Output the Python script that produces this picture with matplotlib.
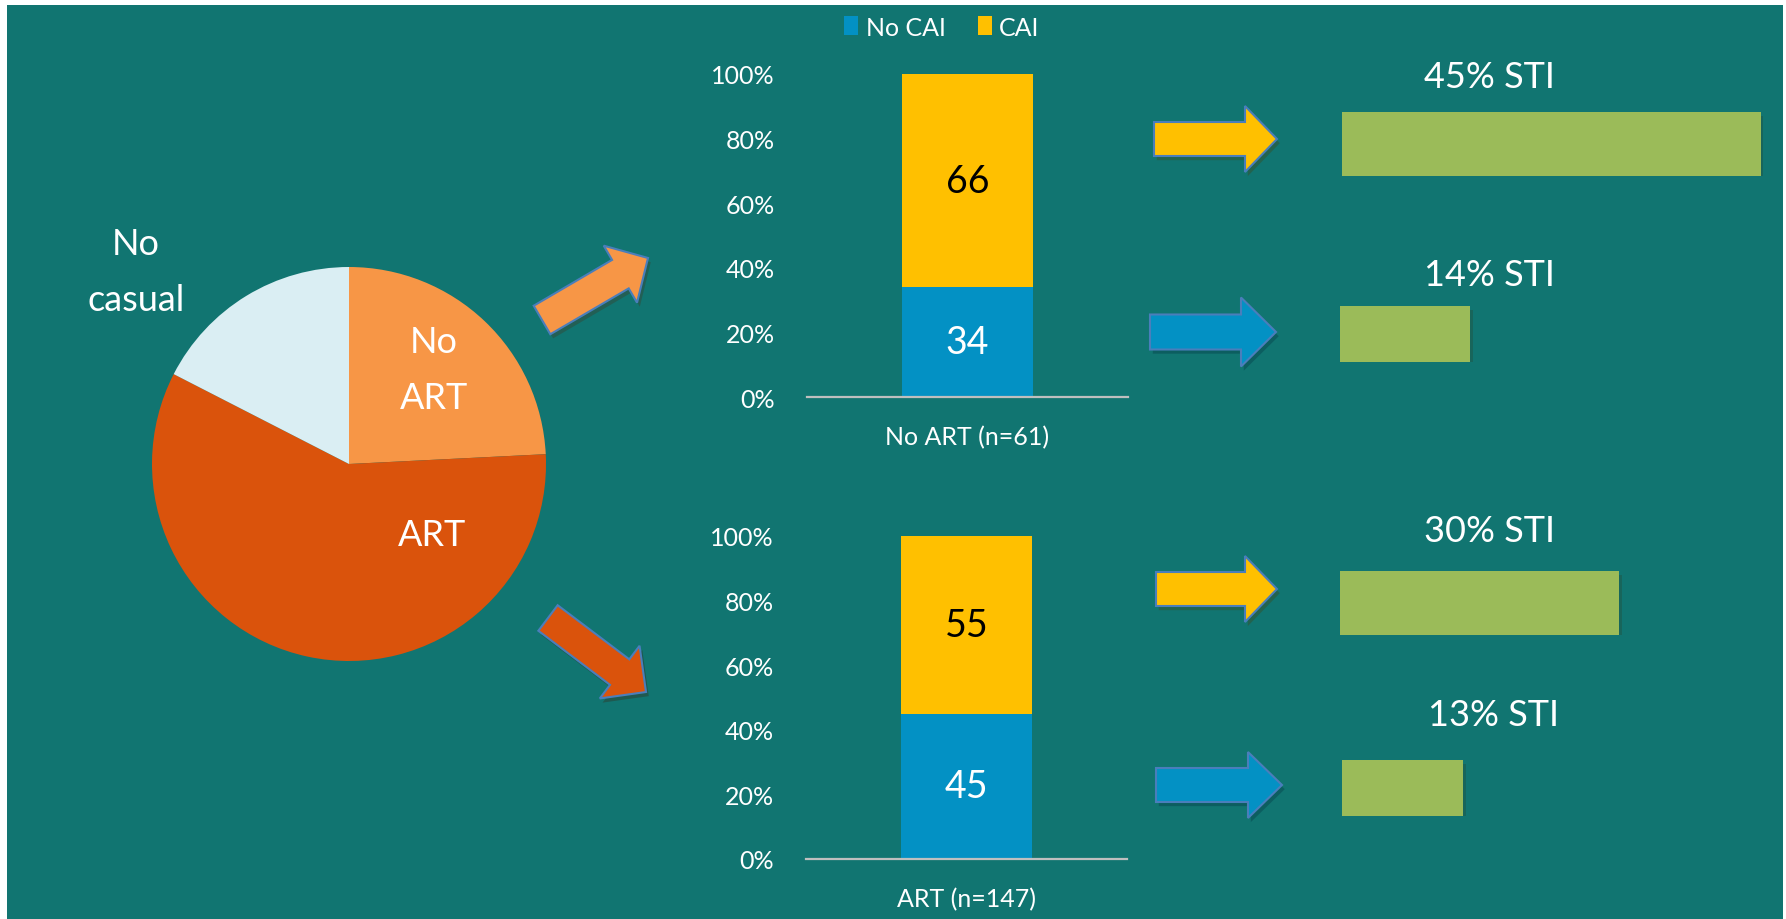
import matplotlib
matplotlib.use("Agg")
import matplotlib.pyplot as plt
from matplotlib.patches import Rectangle, FancyArrow
import matplotlib.patheffects as pe

plt.rcParams['font.family'] = ['Lato', 'DejaVu Sans']

# ---------------- data ----------------
pie_labels = ['No\nART', 'ART', 'No\ncasual']
pie_values = [61, 147, 44]
pie_colors = ['#F79646', '#DA530C', '#DAEEF3']

categories = ['No ART (n=61)', 'ART (n=147)']
no_cai = [34, 45]
cai = [66, 55]
legend_labels = ['No CAI', 'CAI']
yticks = [0, 20, 40, 60, 80, 100]
ytick_labels = ['0%', '20%', '40%', '60%', '80%', '100%']

sti_values = [45, 14, 30, 13]

# ---------------- layout ----------------
W, H = 1786, 920
TEAL = '#117571'
BLUE = '#0391C4'
YELLOW = '#FFC000'
GREEN = '#9BBB59'
EDGE = '#4A7EBB'

fig = plt.figure(figsize=(W / 100, H / 100), dpi=100)
fig.patch.set_facecolor('white')


def rect(x0, y0, x1, y1):
    """pixel box (top-left origin) -> figure fraction rect"""
    return [x0 / W, 1 - y1 / H, (x1 - x0) / W, (y1 - y0) / H]


fig.add_artist(Rectangle((7 / W, 0), (1783 - 7) / W, 1 - 6 / H,
                         transform=fig.transFigure, facecolor=TEAL,
                         edgecolor='none', zorder=-5))

# ---------------- pie ----------------
pax = fig.add_axes(rect(152, 268, 546, 662))
pax.pie(pie_values, colors=pie_colors, startangle=90, counterclock=False,
        wedgeprops=dict(linewidth=0))
pax.set_xlim(-1, 1)
pax.set_ylim(-1, 1)
pax.set_aspect('equal')
pax.axis('off')
pie_label_pos = [(0.43, 0.48), (0.42, -0.36), (-1.08, 0.975)]
for lab, (lx, ly) in zip(pie_labels, pie_label_pos):
    pax.text(lx, ly, lab, color='white', fontsize=26, ha='center', va='center',
             linespacing=1.85, clip_on=False)

# ---------------- stacked bars ----------------
bar_boxes = [(807, 75, 1128, 398), (806, 537, 1127, 860)]
for i, box in enumerate(bar_boxes):
    ax = fig.add_axes(rect(*box))
    ax.patch.set_alpha(0)
    ax.bar([0], [no_cai[i]], width=0.405, color=BLUE, label=legend_labels[0])
    ax.bar([0], [cai[i]], bottom=[no_cai[i]], width=0.405, color=YELLOW,
           label=legend_labels[1])
    ax.text(0, no_cai[i] / 2, str(no_cai[i]), color='white', fontsize=27,
            ha='center', va='center')
    ax.text(0, no_cai[i] + cai[i] / 2, str(cai[i]), color='black', fontsize=27,
            ha='center', va='center')
    ax.set_xlim(-0.5, 0.5)
    ax.set_ylim(0, 100)
    ax.set_yticks(yticks)
    ax.set_yticklabels(ytick_labels)
    ax.set_xticks([0])
    ax.set_xticklabels([categories[i]])
    for s in ['top', 'right', 'left']:
        ax.spines[s].set_visible(False)
    ax.spines['bottom'].set_color('#BFBFBF')
    ax.spines['bottom'].set_linewidth(1.6)
    ax.tick_params(axis='y', length=0, pad=23, labelsize=18, labelcolor='white')
    ax.tick_params(axis='x', length=0, pad=20, labelsize=18, labelcolor='white')
    if i == 0:
        ax.legend(loc='center', bbox_to_anchor=(942 / W, 1 - 28 / H),
                  bbox_transform=fig.transFigure, ncol=2, frameon=False,
                  fontsize=18, handlelength=0.55, handleheight=0.8,
                  handletextpad=0.3, columnspacing=1.3, labelcolor='white')

# ---------------- STI bars ----------------
sti_boxes = [(1342, 113, 1786, 177), (1340, 307, 1786, 363),
             (1340, 572, 1786, 636), (1342, 761, 1786, 817)]
sti_text_pos = [(1489, 77), (1489, 276), (1489, 531), (1494, 716)]
for v, box, (tx, ty) in zip(sti_values, sti_boxes, sti_text_pos):
    ax = fig.add_axes(rect(*box))
    ax.barh([0], [v], height=1.0, color=GREEN,
            path_effects=[pe.SimplePatchShadow(offset=(2, -3), alpha=0.25),
                          pe.Normal()])
    ax.set_xlim(0, (box[2] - box[0]) / 9.3)
    ax.set_ylim(-0.5, 0.5)
    ax.axis('off')
    fig.text(tx / W, 1 - ty / H, f'{v}% STI', color='white', fontsize=26,
             ha='center', va='center')

# ---------------- arrows (overlay) ----------------
oax = fig.add_axes([0, 0, 1, 1])
oax.set_xlim(0, W)
oax.set_ylim(H, 0)
oax.axis('off')
oax.patch.set_alpha(0)

arrows = [
    # (x_tail, y_tail, x_tip, y_tip, shaft, head_w, head_len, color)
    (542, 321, 648, 259, 33, 66, 32, '#F79646'),
    (548, 619, 646, 693, 32, 66, 33, '#DA530C'),
    (1154, 140, 1277, 140, 34, 66, 32, YELLOW),
    (1150, 333, 1276, 333, 35, 69, 35, BLUE),
    (1156, 590, 1277, 590, 34, 66, 32, YELLOW),
    (1156, 786, 1282, 786, 34, 66, 34, BLUE),
]
for x0, y0, x1, y1, sw, hw, hl, col in arrows:
    a = FancyArrow(x0, y0, x1 - x0, y1 - y0, width=sw, head_width=hw,
                   head_length=hl, length_includes_head=True,
                   facecolor=col, edgecolor=EDGE, linewidth=1.5,
                   path_effects=[pe.SimplePatchShadow(offset=(2, -3), alpha=0.3),
                                 pe.Normal()])
    oax.add_patch(a)

fig.savefig('out.png', dpi=100, facecolor=fig.get_facecolor())
